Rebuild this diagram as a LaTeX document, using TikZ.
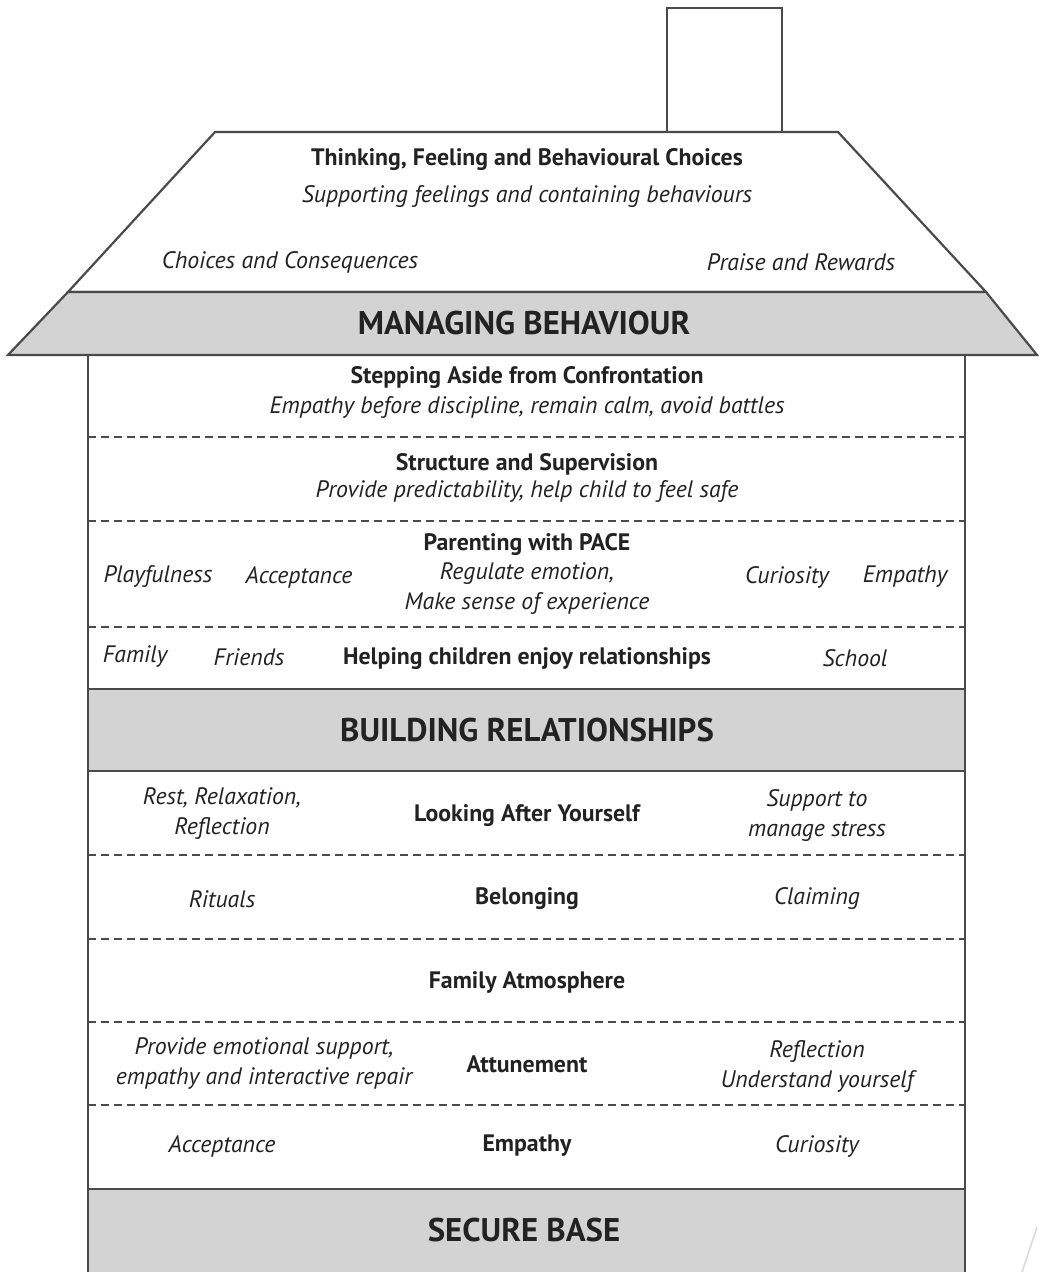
\documentclass[tikz,border=0pt]{standalone}
\usepackage{fontspec}
\setmainfont{PT Sans}
\definecolor{linegrey}{HTML}{4A4A4A}
\definecolor{bandgrey}{HTML}{D3D3D3}
\definecolor{ink}{HTML}{222222}
\begin{document}
\begin{tikzpicture}
[x=0.5pt,y=-0.5pt,
  wall/.style={draw=linegrey,line width=1.1pt,line join=miter},
  sepline/.style={draw=linegrey,line width=0.7pt,dash pattern=on 4pt off 2.5pt},
  title/.style={font=\bfseries\fontsize{11.9}{14}\selectfont,text=ink},
  note/.style={font=\itshape\fontsize{11.9}{15}\selectfont,text=ink,align=center},
  heading/.style={font=\bfseries\fontsize{16.4}{18}\selectfont,text=ink}]
\useasboundingbox (0,0) rectangle (1038,1272);
%% house outline
\draw[wall,fill=white] (667,132) -- (667,8) -- (782,8) -- (782,132);
\draw[wall,fill=white] (68,292) -- (215,132) -- (838,132) -- (986,292) -- cycle;
\draw[wall,fill=bandgrey] (8,355) -- (68,292) -- (986,292) -- (1037,355) -- cycle;
\fill[bandgrey] (88,689) rectangle (965,771);
\fill[bandgrey] (88,1189) rectangle (965,1272);
\draw[wall] (88,355) -- (88,1272);
\draw[wall] (965,355) -- (965,1272);
\foreach \y in {689,771,1189}
  \draw[wall] (88,\y) -- (965,\y);
\foreach \y in {437,521,627,855,939,1022,1105}
  \draw[sepline] (88,\y) -- (965,\y);
\draw[black!15,line width=0.8pt] (1037,1227) -- (1022,1272);
%% roof
\node[title] (choices) at (527,160) {Thinking, Feeling and Behavioural Choices};
\node[note] (support) at (527,197) {Supporting feelings and containing behaviours};
\node[note] (conseq) at (290,262) {Choices and Consequences};
\node[note] (praise) at (801,262) {Praise and Rewards};
\node[heading] (managing) at (524,323) {MANAGING BEHAVIOUR};
%% managing behaviour rows
\node[title] (stepping) at (527,378) {Stepping Aside from Confrontation};
\node[note] (calm) at (527,408) {Empathy before discipline, remain calm, avoid battles};
\node[title] (structure) at (527,464) {Structure and Supervision};
\node[note] (safe) at (527,492) {Provide predictability, help child to feel safe};
\node[title] (pace) at (527,545) {Parenting with PACE};
\node[note] (regulate) at (527,589) {Regulate emotion,\\Make sense of experience};
\foreach \name/\x/\y/\txt in {playful/158/577/Playfulness, accept/299/577/Acceptance,
  curious/787/577/Curiosity, empathy/905/577/Empathy,
  family/135/657/Family, friends/249/657/Friends, school/855/658/School}
{
  \node[note] (\name) at (\x,\y) {\txt};
}
\node[title] (enjoy) at (527,659) {Helping children enjoy relationships};
\node[heading] (building) at (527,730) {BUILDING RELATIONSHIPS};
%% secure base rows
\node[note] (rest) at (222,814) {Rest, Relaxation,\\Reflection};
\node[title] (looking) at (527,816) {Looking After Yourself};
\node[note] (stress) at (817,816) {Support to\\manage stress};
\node[note] (rituals) at (222,899) {Rituals};
\node[title] (belonging) at (527,899) {Belonging};
\node[note] (claiming) at (817,899) {Claiming};
\node[title] (atmosphere) at (527,982) {Family Atmosphere};
\node[note] (repair) at (264,1064) {Provide emotional support,\\empathy and interactive repair};
\node[title] (attune) at (527,1064) {Attunement};
\node[note] (reflect) at (817,1066) {Reflection\\Understand yourself};
\node[note] (acceptance) at (222,1146) {Acceptance};
\node[title] (empathycore) at (527,1146) {Empathy};
\node[note] (curiosity) at (817,1146) {Curiosity};
\node[heading] (secure) at (524,1230) {SECURE BASE};
\end{tikzpicture}
\end{document}
